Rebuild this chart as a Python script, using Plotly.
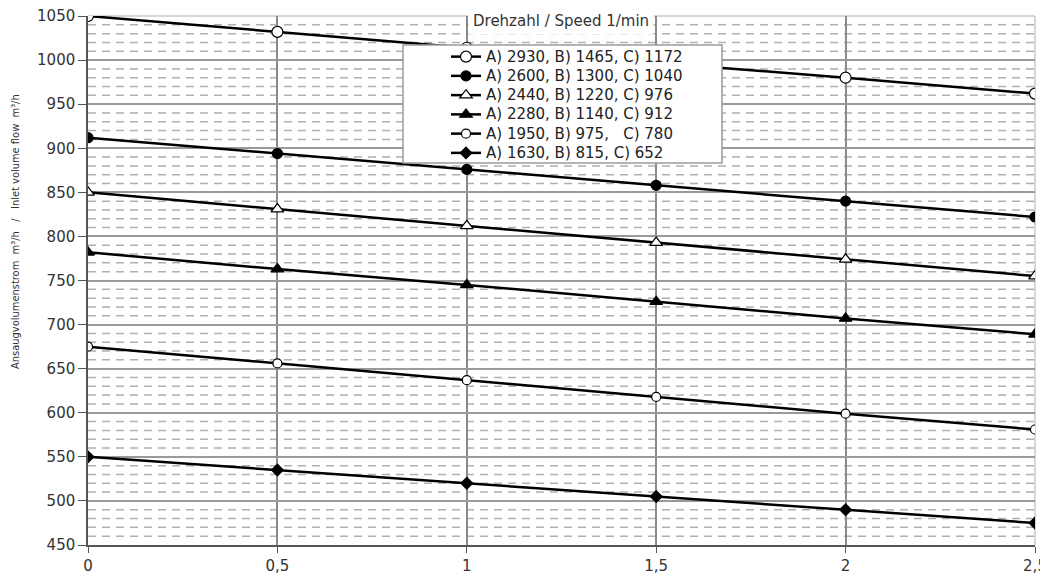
import plotly.graph_objects as go

x_vals = [0, 0.5, 1, 1.5, 2, 2.5]
x_tick_labels = ["0", "0,5", "1", "1,5", "2", "2,5"]

series_names = [
    "A) 2930, B) 1465, C) 1172",
    "A) 2600, B) 1300, C) 1040",
    "A) 2440, B) 1220, C) 976",
    "A) 2280, B) 1140, C) 912",
    "A) 1950, B) 975,   C) 780",
    "A) 1630, B) 815, C) 652",
]
s1 = [1050, 1032, 1014, 997, 980, 962]
s2 = [912, 894, 876, 858, 840, 822]
s3 = [850, 831, 812, 793, 774, 755]
s4 = [782, 763, 745, 726, 707, 689]
s5 = [675, 656, 637, 618, 599, 581]
s6 = [550, 535, 520, 505, 490, 475]
series_values = [s1, s2, s3, s4, s5, s6]

y_title = "Ansaugvolumenstrom  m³/h   /   Inlet volume flow  m³/h"
legend_title = "Drehzahl / Speed 1/min"

marker_symbols = ["circle", "circle", "triangle-up", "triangle-up", "circle", "diamond"]
marker_open = [True, False, True, False, True, False]
marker_sizes = [11, 10, 11, 11, 9, 9]

# page has an 8px body margin; figure is sized so the plot lands where the reference has it
OFF = 8
FW, FH = 1048 - OFF, 576 - OFF
L, R, T, B = 88 - OFF, 13, 16 - OFF, 31
PLOT_L, PLOT_B = 88, 545
PW = FW - L - R
PH = FH - T - B


def px_x(p):
    return (p - PLOT_L) / PW


def px_y(p):
    return (PLOT_B - p) / PH


fig = go.Figure()

for name, vals, sym, op, sz in zip(series_names, series_values, marker_symbols, marker_open, marker_sizes):
    fig.add_trace(go.Scatter(
        x=x_vals, y=vals, mode="lines+markers",
        name='<span style="font-size:15px">' + name + "</span>",
        line=dict(color="black", width=2.5),
        marker=dict(symbol=sym, size=sz, color="white" if op else "black",
                    line=dict(width=1.2, color="black")),
    ))

# minor dashed gridlines every 10
for v in range(460, 1050, 10):
    if v % 50 == 0:
        continue
    fig.add_shape(type="line", xref="paper", x0=0, x1=1, yref="y", y0=v, y1=v,
                  line=dict(color="#b0b0b0", width=1.5, dash="8px,6px"), layer="below")

fig.add_shape(type="line", xref="paper", x0=0, x1=1, yref="paper", y0=1, y1=1,
              line=dict(color="#c8c8c8", width=1.5), layer="below")
fig.add_shape(type="line", xref="paper", x0=1, x1=1, yref="paper", y0=0, y1=1,
              line=dict(color="#c8c8c8", width=1.5), layer="below")

# legend box
fig.add_shape(type="rect", xref="paper", yref="paper",
              x0=px_x(403), x1=px_x(722), y0=px_y(163), y1=px_y(45),
              fillcolor="white", line=dict(color="#9a9a9a", width=1.5), layer="above")

fig.add_annotation(text=legend_title, xref="paper", yref="paper",
                   x=px_x(561), y=px_y(21), xanchor="center", yanchor="middle",
                   showarrow=False,
                   font=dict(family="DejaVu Sans", size=15, color="#333333"),
                   bgcolor="white", borderpad=4)

fig.add_annotation(text='<span style="font-stretch:condensed">' + y_title + "</span>",
                   xref="paper", yref="paper",
                   x=px_x(15), y=px_y(232), xanchor="center", yanchor="middle",
                   textangle=-90, showarrow=False,
                   font=dict(family="DejaVu Sans", size=11, color="#333333"))

fig.update_layout(
    width=FW, height=FH,
    margin=dict(l=L, r=R, t=T, b=B, autoexpand=False),
    plot_bgcolor="white", paper_bgcolor="white",
    showlegend=True,
    legend=dict(x=px_x(446), y=px_y(42), xanchor="left", yanchor="top",
                bgcolor="rgba(0,0,0,0)", borderwidth=0,
                font=dict(family="DejaVu Sans", size=12.5, color="#222222"),
                tracegroupgap=0),
    xaxis=dict(range=[0, 2.5], tickvals=x_vals, ticktext=x_tick_labels,
               showgrid=True, gridcolor="#8a8a8a", gridwidth=1.5,
               showline=True, linecolor="#555555", linewidth=1.5,
               ticks="outside", ticklen=6, tickcolor="#555555",
               tickfont=dict(family="DejaVu Sans", size=15, color="#333333"),
               ticklabeloverflow="allow",
               zeroline=False, automargin=False),
    yaxis=dict(range=[450, 1050], dtick=50, tick0=450,
               showgrid=True, gridcolor="#9a9a9a", gridwidth=1.5,
               showline=True, linecolor="#555555", linewidth=1.5,
               ticks="outside", ticklen=8, tickcolor="#555555",
               tickfont=dict(family="DejaVu Sans", size=15, color="#333333"),
               ticklabeloverflow="allow",
               zeroline=False, automargin=False),
)

fig.write_html("out.html")
